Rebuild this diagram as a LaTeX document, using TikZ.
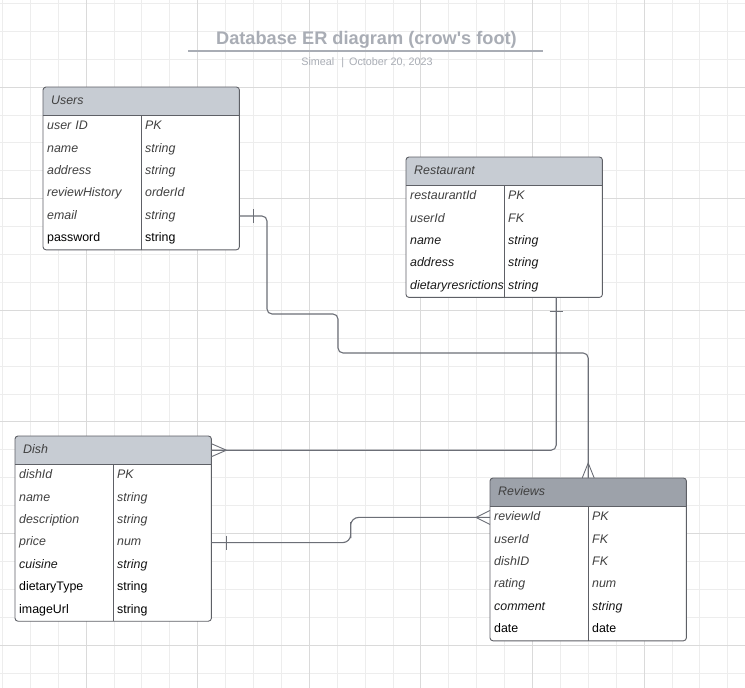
\documentclass[tikz,border=0pt]{standalone}
\usepackage{fontspec}
\setmainfont{Liberation Sans}
\usetikzlibrary{positioning,calc}

\definecolor{gridminor}{HTML}{EDEDED}
\definecolor{gridmajor}{HTML}{DADADA}
\definecolor{hdrlight}{HTML}{C7CCD3}
\definecolor{hdrdark}{HTML}{9DA2AA}
\definecolor{tblborder}{HTML}{5E6066}
\definecolor{relline}{HTML}{6C6F77}
\definecolor{titlegray}{HTML}{A9ADB5}
\definecolor{fieldgray}{HTML}{404040}

\newcommand{\erfont}{\fontsize{12.4pt}{14pt}\selectfont}

\tikzset{
    tbl/.style={fill=white, minimum width=196pt, inner sep=0pt, anchor=north west},
    tblline/.style={draw=tblborder, line width=0.9pt},
    hdr/.style={anchor=north west, minimum width=196pt, minimum height=28pt, text width=180pt, text height=9pt, text depth=2.6pt, inner xsep=8pt, inner ysep=0pt, align=left, font=\erfont\itshape, text=fieldgray},
    field/.style={anchor=north west, minimum width=196pt, minimum height=22.4pt, text width=188pt, text height=9pt, text depth=2.6pt, inner xsep=4pt, inner ysep=0pt, align=left, font=\erfont},
    ftype/.style={anchor=west, inner xsep=4pt, inner ysep=0pt, text height=9pt, text depth=2.6pt, font=\erfont},
    ig/.style={font=\erfont\itshape, text=fieldgray},
    ik/.style={font=\erfont\itshape, text=black!90},
    nk/.style={font=\erfont, text=black},
    rel/.style={draw=relline, line width=1.1pt, rounded corners=5pt},
    crow/.style={draw=relline, line width=0.9pt}
}

% frame of one table: name, header colour
\newcommand{\erframe}[2]{%
    \begin{scope}
        \clip[rounded corners=3pt] (#1.north west) rectangle (#1.south east);
        \fill[#2] (#1.north west) rectangle ([yshift=-28pt]#1.north east);
    \end{scope}
    \draw[tblline] ([yshift=-28pt]#1.north west) -- ([yshift=-28pt]#1.north east);
    \draw[tblline] ([xshift=98pt,yshift=-28pt]#1.north west) -- ([xshift=98pt]#1.south west);
    \draw[tblline, rounded corners=3pt] (#1.north west) rectangle (#1.south east);
}

\begin{document}
\begin{tikzpicture}[x=1pt, y=-1pt]
    \useasboundingbox[fill=white] (0,0) rectangle (745,688);

    % Grid
    \foreach \i in {0,...,26}
        \draw[gridminor, line width=0.8pt] ({2.3+27.9*\i},0) -- ({2.3+27.9*\i},688);
    \foreach \i in {0,...,24}
        \draw[gridminor, line width=0.8pt] (0,{3.3+27.9*\i}) -- (745,{3.3+27.9*\i});
    \foreach \i in {3,7,...,23}
        \draw[gridmajor, line width=0.9pt] ({2.3+27.9*\i},0) -- ({2.3+27.9*\i},688);
    \foreach \i in {3,7,...,23}
        \draw[gridmajor, line width=0.9pt] (0,{3.3+27.9*\i}) -- (745,{3.3+27.9*\i});

    % Title
    \node[font=\bfseries\fontsize{18.2pt}{20pt}\selectfont, text=titlegray] (title) at (366.5,39.5) {Database ER diagram (crow\textquotesingle s foot)};
    \draw[titlegray, line width=1.3pt] (188,51) -- (543,51);
    \node[font=\fontsize{10.8pt}{12pt}\selectfont, text=titlegray] (subtitle) at (367,62.5) {Simeal\hspace{7pt}|\hspace{5pt}October 20, 2023};

    % Tables
    \node[tbl, minimum height=162.4pt] (users) at (43,87) {};
    \erframe{users}{hdrlight}
    \node[hdr] (users-h) at (users.north west) {Users};
    \foreach \f/\t/\s [count=\i] in {user ID/PK/ig, name/string/ig, address/string/ig, reviewHistory/orderId/ig, email/string/ig, password/string/nk} {
        \node[field, \s] (users-\i) at ([yshift={-28pt-(\i-1)*22.4pt}]users.north west) {\f};
        \node[ftype, \s] (users-\i-t) at ([xshift=98pt]users-\i.west) {\t};
    }

    \node[tbl, minimum height=140pt] (restaurant) at (406,157) {};
    \erframe{restaurant}{hdrlight}
    \node[hdr] (restaurant-h) at (restaurant.north west) {Restaurant};
    \foreach \f/\t/\s [count=\i] in {restaurantId/PK/ig, userId/FK/ig, name/string/ik, address/string/ik, dietaryresrictions/string/ik} {
        \node[field, \s] (restaurant-\i) at ([yshift={-28pt-(\i-1)*22.4pt}]restaurant.north west) {\f};
        \node[ftype, \s] (restaurant-\i-t) at ([xshift=98pt]restaurant-\i.west) {\t};
    }

    \node[tbl, minimum height=184.8pt] (dish) at (15,436) {};
    \erframe{dish}{hdrlight}
    \node[hdr] (dish-h) at (dish.north west) {Dish};
    \foreach \f/\t/\s [count=\i] in {dishId/PK/ig, name/string/ig, description/string/ig, price/num/ig, cuisine/string/ik, dietaryType/string/nk, imageUrl/string/nk} {
        \node[field, \s] (dish-\i) at ([yshift={-28pt-(\i-1)*22.4pt}]dish.north west) {\f};
        \node[ftype, \s] (dish-\i-t) at ([xshift=98pt]dish-\i.west) {\t};
    }

    \node[tbl, minimum height=162.4pt] (reviews) at (490,478) {};
    \erframe{reviews}{hdrdark}
    \node[hdr] (reviews-h) at (reviews.north west) {Reviews};
    \foreach \f/\t/\s [count=\i] in {reviewId/PK/ig, userId/FK/ig, dishID/FK/ig, rating/num/ig, comment/string/ik, date/date/nk} {
        \node[field, \s] (reviews-\i) at ([yshift={-28pt-(\i-1)*22.4pt}]reviews.north west) {\f};
        \node[ftype, \s] (reviews-\i-t) at ([xshift=98pt]reviews-\i.west) {\t};
    }

    % Relations
    \coordinate (bendA) at (267,314);
    \coordinate (bendB) at (338,353);
    \draw[rel] (users-5.east) -| (bendA) -| (bendB) -| (reviews.north);
    \draw[rel] ([xshift=52pt]restaurant.south) |- (dish-h.east);
    \draw[rel, rounded corners=8pt] (dish-4.east) -| ($(dish-4.east)!.5!(reviews-1.west)$) |- (reviews-1.west);

    %% one
    \draw[crow] ([xshift=14pt,yshift=7pt]users-5.east) -- ([xshift=14pt,yshift=-7pt]users-5.east);
    \draw[crow] ([xshift=45.5pt,yshift=-14pt]restaurant.south) -- ([xshift=58.5pt,yshift=-14pt]restaurant.south);
    \draw[crow] ([xshift=15pt,yshift=7pt]dish-4.east) -- ([xshift=15pt,yshift=-7pt]dish-4.east);
    %% many
    \draw[crow] ([yshift=6.5pt]dish-h.east) -- ([xshift=15pt]dish-h.east) -- ([yshift=-6.5pt]dish-h.east);
    \draw[crow] ([yshift=7pt]reviews-1.west) -- ([xshift=-14pt]reviews-1.west) -- ([yshift=-7pt]reviews-1.west);
    \draw[crow] ([xshift=-6pt]reviews.north) -- ([yshift=15pt]reviews.north) -- ([xshift=6pt]reviews.north);
\end{tikzpicture}
\end{document}
